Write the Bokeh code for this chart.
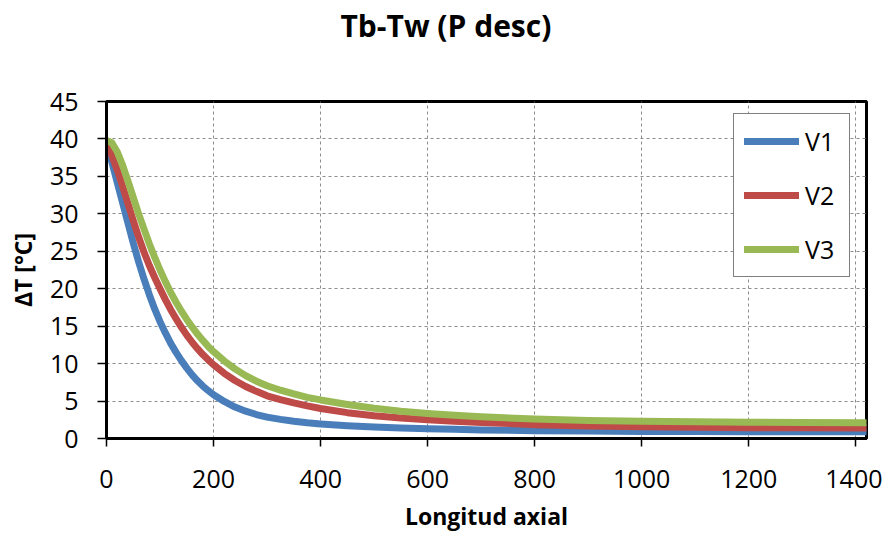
from bokeh.plotting import figure
from bokeh.models import Range1d, Legend, LegendItem, FixedTicker, Title
from bokeh.embed import file_html
from bokeh.resources import INLINE

# ---- data ----
x_pos = [0, 10, 20, 30, 40, 50, 60, 70, 80, 90, 100, 110, 120, 130, 140, 150, 160, 170, 180, 190,
         200, 220, 240, 260, 280, 300, 325, 350, 375, 400, 450, 500, 550, 600, 650, 700,
         800, 900, 1000, 1100, 1200, 1300, 1420]
v1 = [39.5, 36.9, 34.2, 31.5, 28.8, 26.1, 23.6, 21.3, 19.2, 17.3, 15.6, 14.1, 12.7, 11.5, 10.4, 9.4, 8.5, 7.7, 7.0, 6.4,
      5.85, 4.95, 4.2, 3.65, 3.2, 2.85, 2.55, 2.3, 2.1, 1.95, 1.7, 1.52, 1.4, 1.3, 1.22, 1.15,
      1.05, 0.99, 0.95, 0.93, 0.91, 0.9, 0.9]
v2 = [39.5, 37.8, 35.9, 33.7, 31.4, 29.1, 26.9, 24.9, 23.1, 21.5, 20.0, 18.55, 17.2, 16.0, 14.85, 13.8, 12.85, 12.0, 11.2, 10.5,
      9.85, 8.7, 7.75, 6.95, 6.3, 5.7, 5.2, 4.75, 4.35, 4.0, 3.45, 3.05, 2.75, 2.5, 2.3, 2.15,
      1.85, 1.68, 1.57, 1.5, 1.45, 1.42, 1.4]
v3 = [39.8, 39.5, 38.3, 36.5, 34.4, 32.2, 30.0, 28.0, 26.0, 24.2, 22.5, 20.95, 19.5, 18.2, 17.0, 15.9, 14.9, 13.95, 13.1, 12.3,
      11.6, 10.35, 9.3, 8.4, 7.65, 7.05, 6.45, 5.95, 5.5, 5.15, 4.55, 4.05, 3.65, 3.35, 3.1, 2.9,
      2.6, 2.42, 2.3, 2.22, 2.17, 2.13, 2.1]
series_names = ["V1", "V2", "V3"]
series_colors = ["#4A7EBB", "#BE4B48", "#98B954"]
x_ticks = [0, 200, 400, 600, 800, 1000, 1200, 1400]
y_ticks = [0, 5, 10, 15, 20, 25, 30, 35, 40, 45]
title_text = "Tb-Tw (P desc)"
x_title = "Longitud axial"
y_title = "ΔT [°C]"

FONT = "Open Sans"

p = figure(frame_width=760, frame_height=337,
           x_range=Range1d(0, 1420), y_range=Range1d(0, 45),
           output_backend="svg", toolbar_location=None,
           min_border_left=106, min_border_right=16,
           min_border_top=101, min_border_bottom=92)

p.outline_line_color = "black"
p.outline_line_width = 3
p.background_fill_color = "white"
p.border_fill_color = "white"

# empty spacer between the frame and the title, so the title sits near the top
spacer = Title(text=" ", text_font_size="20px", standoff=26)
p.add_layout(spacer, "above")

p.title.text = title_text
p.title.text_font = FONT
p.title.text_font_style = "bold"
p.title.text_font_size = "30px"
p.title.text_color = "black"
p.title.align = "left"
p.title.offset = 234
p.title.vertical_align = "top"
p.title.standoff = 8

for ax in (p.xaxis[0], p.yaxis[0]):
    ax.axis_line_color = "black"
    ax.axis_line_width = 3
    ax.major_tick_line_color = "black"
    ax.major_tick_line_width = 1.5
    ax.major_tick_in = 0
    ax.minor_tick_line_color = None
    ax.major_label_text_font = FONT
    ax.major_label_text_font_size = "25px"
    ax.major_label_text_color = "black"
    ax.axis_label_text_font = FONT
    ax.axis_label_text_font_style = "bold"
    ax.axis_label_text_font_size = "23px"
    ax.axis_label_text_color = "black"

p.xaxis.ticker = FixedTicker(ticks=x_ticks)
p.yaxis.ticker = FixedTicker(ticks=y_ticks)
p.xaxis.major_tick_out = 8
p.yaxis.major_tick_out = 9
p.xaxis.major_label_standoff = 23
p.yaxis.major_label_standoff = 19
p.xaxis.axis_label = x_title
p.yaxis.axis_label = y_title
p.xaxis.axis_label_standoff = 9
p.yaxis.axis_label_standoff = 8

for g in (p.xgrid[0], p.ygrid[0]):
    g.grid_line_color = "#8c8c8c"
    g.grid_line_width = 1
    g.grid_line_dash = "3 3"
p.xgrid.ticker = FixedTicker(ticks=x_ticks)
p.ygrid.ticker = FixedTicker(ticks=y_ticks)

items = []
for name, ys, col in zip(series_names, [v1, v2, v3], series_colors):
    r = p.line(x_pos, ys, line_color=col, line_width=7, line_cap="round", line_join="round")
    items.append(LegendItem(label=name, renderers=[r]))

legend = Legend(items=items, location=(627, 161))
legend.label_text_font = FONT
legend.label_text_font_size = "25px"
legend.label_text_color = "black"
legend.glyph_width = 55
legend.glyph_height = 34
legend.label_height = 34
legend.label_width = 34
legend.spacing = 20
legend.padding = 10
legend.margin = 0
legend.label_standoff = 6
legend.border_line_color = "black"
legend.border_line_width = 1.5
legend.background_fill_color = "white"
legend.background_fill_alpha = 1
p.add_layout(legend)

open("out.html", "w").write(file_html(p, INLINE))
